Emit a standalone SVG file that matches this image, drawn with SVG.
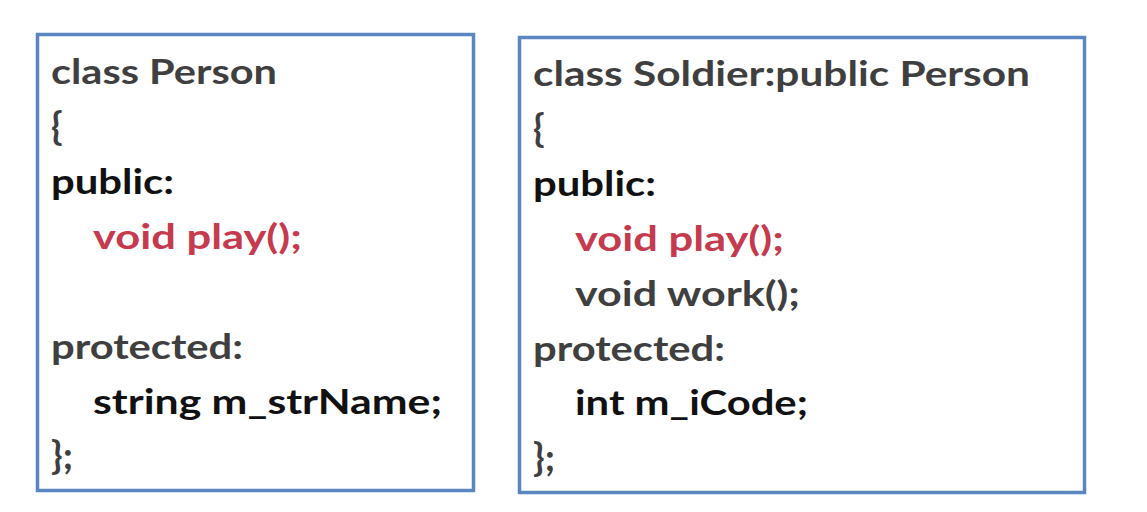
<svg xmlns="http://www.w3.org/2000/svg" width="1147" height="512" viewBox="0 0 1147 512">
<style>
.box{fill:#ffffff;stroke:#5b86c0;stroke-width:3.5}
text{font-family:Lato,"Open Sans","Liberation Sans",sans-serif;font-weight:bold;font-size:34px}
.br{font-size:38px}
.g{fill:#3f3f3f}
.k{fill:#111111}
.r{fill:#c43a4e}
</style>
<rect width="1147" height="512" fill="#ffffff"/>
<g id="person">
<rect class="box" x="37.5" y="34.5" width="436" height="456"/>
<text class="g" x="51" y="84" textLength="226" lengthAdjust="spacingAndGlyphs">class Person</text>
<text class="g br" x="51" y="140">{</text>
<text class="k" x="51" y="194" textLength="123" lengthAdjust="spacingAndGlyphs">public:</text>
<text class="r" x="93" y="249" textLength="209" lengthAdjust="spacingAndGlyphs">void play();</text>
<text class="g" x="51" y="359" textLength="192" lengthAdjust="spacingAndGlyphs">protected:</text>
<text class="k" x="93" y="414" textLength="349" lengthAdjust="spacingAndGlyphs">string m_strName;</text>
<text class="g br" x="51" y="469">};</text>
</g>
<g id="soldier">
<rect class="box" x="519.5" y="37.5" width="565" height="455"/>
<text class="g" x="533" y="86" textLength="497" lengthAdjust="spacingAndGlyphs">class Soldier:public Person</text>
<text class="g br" x="533" y="142">{</text>
<text class="k" x="533" y="196" textLength="123" lengthAdjust="spacingAndGlyphs">public:</text>
<text class="r" x="575" y="251" textLength="209" lengthAdjust="spacingAndGlyphs">void play();</text>
<text class="g" x="575" y="306" textLength="225" lengthAdjust="spacingAndGlyphs">void work();</text>
<text class="g" x="533" y="361" textLength="192" lengthAdjust="spacingAndGlyphs">protected:</text>
<text class="k" x="575" y="415" textLength="233" lengthAdjust="spacingAndGlyphs">int m_iCode;</text>
<text class="g br" x="533" y="471">};</text>
</g>
<g id="connectors"/>
</svg>
